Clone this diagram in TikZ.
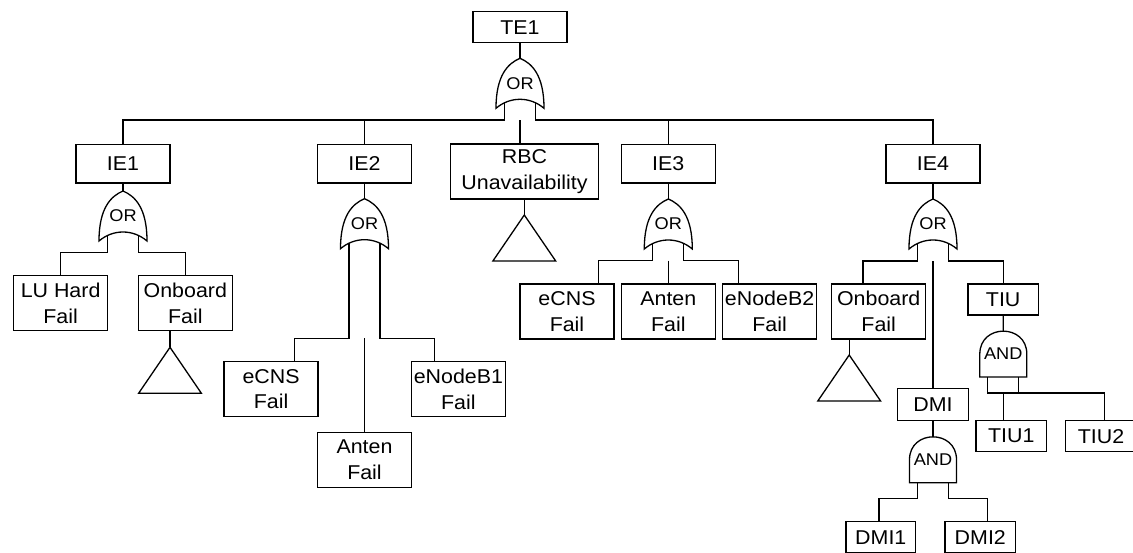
\documentclass[tikz,border=0pt]{standalone}
\usepackage{fontspec}
\setmainfont{Liberation Sans}[FakeStretch=1.07]

\tikzset{
  evbox/.style={draw, minimum width=94pt, minimum height=55pt, inner sep=0pt, align=center, font=\fontsize{20}{25.7}\selectfont},
  iebox/.style={evbox, minimum height=38.7pt},
  smallbox/.style={evbox, minimum width=70.7pt, minimum height=31pt},
  gatetext/.style={inner sep=0pt, font=\fontsize{17}{20}\selectfont},
  orgate/.pic={
    \draw (-24,25) .. controls (-24,-8) and (-12,-20) .. (0,-25)
      .. controls (12,-20) and (24,-8) .. (24,25)
      .. controls (10,13) and (-10,13) .. (-24,25) -- cycle;
    \coordinate (-top) at (0,-25);
    \coordinate (-l) at (-15.5,19.5);
    \coordinate (-r) at (15.5,19.5);
    \node[gatetext] (-txt) at (0,0) {OR};
  },
  andgate/.pic={
    \draw (-23.5,23) -- (-23.5,0) .. controls (-23.5,-30.5) and (23.5,-30.5) .. (23.5,0) -- (23.5,23) -- cycle;
    \coordinate (-top) at (0,-23);
    \coordinate (-l) at (-15.5,23);
    \coordinate (-r) at (15.5,23);
    \node[gatetext] (-txt) at (0,0) {AND};
  },
  transfer/.pic={
    \draw (0,0) -- (31.4,46) -- (-31.4,46) -- cycle;
    \coordinate (-top) at (0,0);
  }
}

\begin{document}
\begin{tikzpicture}[x=1pt, y=-1pt, line width=1.3pt]
\useasboundingbox (0,0) rectangle (1133,552);
% TE1
\node[evbox, minimum height=31pt] (te1) at (520,27.2) {TE1};
\pic (g0) at (520,83.3) {orgate};
\coordinate (b0) at (520,120);
\node[iebox] (ie1) at (123,163.5) {IE1};
\node[iebox] (ie2) at (364.5,163.5) {IE2};
\node[evbox, minimum width=147.7pt] (rbc) at (524.5,171.5) {RBC\\Unavailability};
\node[iebox] (ie3) at (668.3,163.5) {IE3};
\node[iebox] (ie4) at (933,163.5) {IE4};
\draw (te1.south) -- (g0-top);
\draw (g0-l) -- (g0-l |- b0) -| (ie1.north);
\draw (g0-l |- b0) -| (ie2.north);
\draw (g0-r) -- (g0-r |- b0) -| (ie4.north);
\draw (g0-r |- b0) -| (ie3.north);
\draw (b0) -- (b0 |- rbc.north);
% RBC
\pic (t0) at (524.3,215) {transfer};
\draw (rbc.south -| t0-top) -- (t0-top);
% IE1
\pic (g1) at (123,216) {orgate};
\coordinate (b1) at (123,252.7);
\node[evbox] (lu) at (60.6,303.2) {LU Hard\\Fail};
\node[evbox] (ob1) at (185.3,303.2) {Onboard\\Fail};
\pic (t1) at (170,347.3) {transfer};
\draw (ie1.south) -- (g1-top);
\draw (g1-l) -- (g1-l |- b1) -| (lu.north);
\draw (g1-r) -- (g1-r |- b1) -| (ob1.north);
\draw (ob1.south -| t1-top) -- (t1-top);
% IE2
\pic (g2) at (364.5,223.7) {orgate};
\coordinate (b2) at (364.5,338.3);
\node[evbox] (ecns1) at (271.1,389.2) {eCNS\\Fail};
\node[evbox] (anten1) at (364.5,459.7) {Anten\\Fail};
\node[evbox] (enb1) at (458.4,389.2) {eNodeB1\\Fail};
\draw (ie2.south) -- (g2-top);
\draw (g2-l) -- (g2-l |- b2) -| ([xshift=23.5pt]ecns1.north);
\draw (g2-r) -- (g2-r |- b2) -| ([xshift=-23.8pt]enb1.north);
\draw (b2) -- (anten1.north);
% IE3
\pic (g3) at (668.3,224) {orgate};
\coordinate (b3) at (668.3,260.7);
\node[evbox] (ecns2) at (567,311.5) {eCNS\\Fail};
\node[evbox] (anten2) at (668.3,311.5) {Anten\\Fail};
\node[evbox] (enb2) at (769.6,311.5) {eNodeB2\\Fail};
\draw (ie3.south) -- (g3-top);
\draw (g3-l) -- (g3-l |- b3) -| ([xshift=31.5pt]ecns2.north);
\draw (g3-r) -- (g3-r |- b3) -| ([xshift=-31pt]enb2.north);
\draw (b3) -- (anten2.north);
% IE4
\pic (g4) at (933,224) {orgate};
\coordinate (b4) at (933,261);
\node[evbox] (ob2) at (878.7,311.5) {Onboard\\Fail};
\pic (t2) at (849.2,355) {transfer};
\node[smallbox] (tiu) at (1003.2,299.5) {TIU};
\node[smallbox, minimum height=32.4pt] (dmi) at (933,404.5) {DMI};
\draw (ie4.south) -- (g4-top);
\draw (g4-l) -- (g4-l |- b4) -| ([xshift=-15.7pt]ob2.north);
\draw (g4-r) -- (g4-r |- b4) -| (tiu.north);
\draw (b4) -- (dmi.north);
\draw (ob2.south -| t2-top) -- (t2-top);
% TIU
\pic (g5) at (1003.3,354) {andgate};
\coordinate (b5) at (1003.3,393);
\node[smallbox] (tiu1) at (1011.3,436.2) {TIU1};
\node[smallbox] (tiu2) at (1101,436.2) {TIU2};
\draw (tiu.south) -- (g5-top);
\draw (g5-l) -- (g5-l |- b5) -| ([xshift=3.3pt]tiu2.north);
\draw (g5-r) -- (g5-r |- b5);
\draw (b5) -- (b5 |- tiu1.north);
% DMI
\pic (g6) at (933,459.7) {andgate};
\coordinate (b6) at (933,498.3);
\node[smallbox, minimum width=69.7pt] (dmi1) at (880.8,537.2) {DMI1};
\node[smallbox] (dmi2) at (980.3,537.2) {DMI2};
\draw (dmi.south) -- (g6-top);
\draw (g6-l) -- (g6-l |- b6) -| ([xshift=-1.8pt]dmi1.north);
\draw (g6-r) -- (g6-r |- b6) -| ([xshift=7.4pt]dmi2.north);
\end{tikzpicture}
\end{document}
